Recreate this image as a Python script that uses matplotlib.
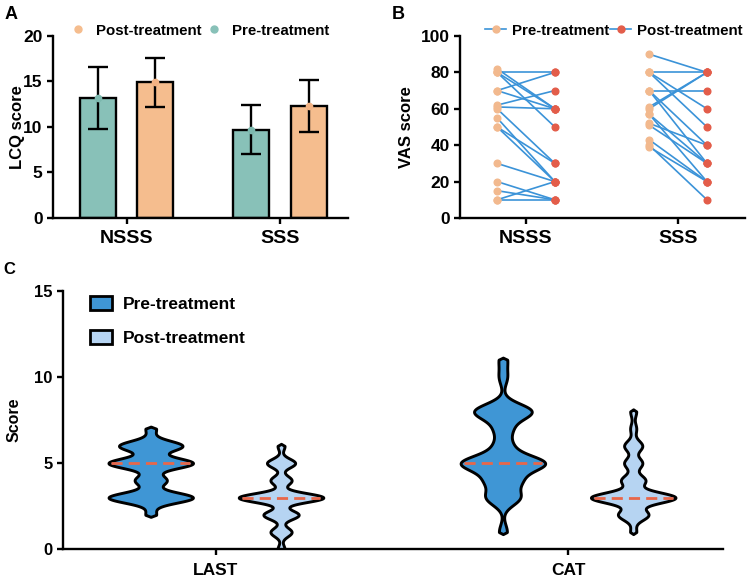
import numpy as np
import matplotlib
matplotlib.use("Agg")
import matplotlib.pyplot as plt
from matplotlib.lines import Line2D
from matplotlib.patches import Patch

plt.rcParams['font.family'] = ['Liberation Sans', 'DejaVu Sans']
plt.rcParams['font.weight'] = 'bold'
plt.rcParams['axes.labelweight'] = 'bold'

# ---------------- data ----------------
# Panel A: LCQ score (mean, SD)
lcq_groups = ["NSSS", "SSS"]
lcq_pre_mean = [13.2, 9.7]
lcq_pre_sd = [3.4, 2.7]
lcq_post_mean = [14.9, 12.3]
lcq_post_sd = [2.7, 2.9]

# Panel B: VAS score, paired pre/post
vas_groups = ["NSSS", "SSS"]
vas_nsss_pre = [82, 80, 80, 80, 70, 70, 62, 61, 60, 55, 50, 50, 30, 20, 15, 10, 10]
vas_nsss_post = [60, 80, 60, 50, 80, 60, 70, 60, 30, 20, 30, 20, 20, 10, 10, 20, 10]
vas_sss_pre = [90, 80, 80, 80, 70, 70, 70, 61, 60, 57, 57, 52, 51, 43, 40, 39]
vas_sss_post = [80, 80, 60, 50, 70, 40, 30, 80, 80, 30, 20, 40, 30, 20, 10, 20]

# Panel C: score distributions (counts per score level)
score_groups = ["LAST", "CAT"]
score_levels = [0, 1, 2, 3, 4, 5, 6, 7, 8, 9, 10, 11, 12]
last_pre_counts = [0, 0, 1, 8, 3, 8, 6, 1, 0, 0, 0, 0, 0]
last_post_counts = [1, 3, 5, 12, 3, 4, 1, 0, 0, 0, 0, 0, 0]
cat_pre_counts = [0, 1, 0, 4, 4, 10, 2, 2, 7, 0, 1, 1, 0]
cat_post_counts = [0, 1, 5, 14, 4, 3, 3, 1, 1, 0, 0, 0, 0]

# ---------------- style ----------------
TEAL = "#88C1B8"
ORANGE = "#F5BD8E"
B_PRE = "#F2B98E"
B_POST = "#E35D4A"
B_LINE = "#3B93D8"
C_PRE = "#3F96D5"
C_POST = "#B6D4F2"
MED = "#E8674A"
LW = 1.7

fig = plt.figure(figsize=(7.5, 5.81), dpi=100)

def style_axes(ax, lsize=12.5):
    for s in ['top', 'right']:
        ax.spines[s].set_visible(False)
    for s in ['left', 'bottom']:
        ax.spines[s].set_linewidth(LW)
    ax.tick_params(width=LW, length=4, labelsize=lsize)

# ---------------- Panel A ----------------
axA = fig.add_axes([0.0707, 0.6248, 0.3933, 0.3133])
style_axes(axA)
xg = np.arange(len(lcq_groups))
off = 0.187
bw = 0.235
axA.bar(xg - off, lcq_pre_mean, width=bw, color=TEAL, edgecolor='black', linewidth=LW, zorder=2)
axA.bar(xg + off, lcq_post_mean, width=bw, color=ORANGE, edgecolor='black', linewidth=LW, zorder=2)
axA.errorbar(xg - off, lcq_pre_mean, yerr=lcq_pre_sd, fmt='none', ecolor='black',
             elinewidth=LW, capsize=7, capthick=LW, zorder=3)
axA.errorbar(xg + off, lcq_post_mean, yerr=lcq_post_sd, fmt='none', ecolor='black',
             elinewidth=LW, capsize=7, capthick=LW, zorder=3)
axA.plot(xg - off, lcq_pre_mean, 'o', color="#7CB8AE", ms=4.5, zorder=4)
axA.plot(xg + off, lcq_post_mean, 'o', color="#F2B283", ms=4.5, zorder=4)
axA.set_xlim(-0.48, 1.444)
axA.set_ylim(0, 20)
axA.set_yticks([0, 5, 10, 15, 20])
axA.set_xticks(xg)
axA.set_xticklabels(lcq_groups, fontsize=14)
axA.tick_params(axis='x', pad=5)
axA.set_ylabel("LCQ score", fontsize=12)
axA.yaxis.set_label_coords(-0.095, 0.5)
hA = [Line2D([], [], marker='o', ls='', color=ORANGE, ms=5),
      Line2D([], [], marker='o', ls='', color=TEAL, ms=5)]
axA.legend(hA, ["Post-treatment", "Pre-treatment"], ncol=2, frameon=False,
           loc='center', bbox_to_anchor=(0.497, 1.03), fontsize=10.8,
           handlelength=1.0, handletextpad=0.7, columnspacing=0.3,
           borderaxespad=0, borderpad=0)

# ---------------- Panel B ----------------
axB = fig.add_axes([0.6133, 0.6248, 0.38, 0.3133])
style_axes(axB)
d = 0.19
pairs = [(vas_nsss_pre, vas_nsss_post), (vas_sss_pre, vas_sss_post)]
for gi, (pre, post) in enumerate(pairs):
    for a, b in zip(pre, post):
        axB.plot([gi - d, gi + d], [a, b], color=B_LINE, lw=1.2, zorder=2)
    axB.plot([gi - d] * len(pre), pre, 'o', color=B_PRE, ms=4.8, zorder=3, ls='')
    axB.plot([gi + d] * len(post), post, 'o', color=B_POST, ms=4.8, zorder=3, ls='')
axB.set_xlim(-0.434, 1.44)
axB.set_ylim(0, 100)
axB.set_yticks([0, 20, 40, 60, 80, 100])
axB.set_xticks([0, 1])
axB.set_xticklabels(vas_groups, fontsize=14)
axB.tick_params(axis='x', pad=5)
axB.set_ylabel("VAS score", fontsize=12)
axB.yaxis.set_label_coords(-0.161, 0.5)
hB = [Line2D([], [], color=B_LINE, lw=1.2, marker='o', mfc=B_PRE, mec=B_PRE, ms=5),
      Line2D([], [], color=B_LINE, lw=1.2, marker='o', mfc=B_POST, mec=B_POST, ms=5)]
axB.legend(hB, ["Pre-treatment", "Post-treatment"], ncol=2, frameon=False,
           loc='center', bbox_to_anchor=(0.54, 1.03), fontsize=10.8,
           handlelength=1.4, handletextpad=0.4, columnspacing=0.05,
           borderaxespad=0, borderpad=0)

# ---------------- Panel C ----------------
axC = fig.add_axes([0.0836, 0.05456, 0.8804, 0.4451])
style_axes(axC, 12)
axC.set_xlim(-0.435, 1.44)
axC.set_ylim(0, 15)
axC.set_yticks([0, 5, 10, 15])
axC.set_xticks([0, 1])
axC.set_xticklabels(score_groups, fontsize=12.5)
axC.tick_params(axis='x', pad=6)
axC.set_ylabel("Score", fontsize=11.5)
axC.yaxis.set_label_coords(-0.063, 0.5)

levels = np.array(score_levels, dtype=float)
violins = [
    (0 - 0.185, last_pre_counts, C_PRE, 0.30),
    (0 + 0.185, last_post_counts, C_POST, 0.26),
    (1 - 0.185, cat_pre_counts, C_PRE, 0.45),
    (1 + 0.185, cat_post_counts, C_POST, 0.31),
]
half_max = 0.12
pad = 0.12
for c, counts, col, h in violins:
    data = np.repeat(levels, counts)
    lo, hi = data.min(), data.max()
    grid = np.linspace(lo - pad, hi + pad, 800)
    dens = np.exp(-0.5 * ((grid[:, None] - data[None, :]) / h) ** 2).sum(1)
    scale = half_max / dens.max()
    taper = np.clip((grid - (lo - pad)) / pad, 0, 1) * np.clip(((hi + pad) - grid) / pad, 0, 1)
    half = dens * scale * taper
    axC.fill_betweenx(grid, c - half, c + half, facecolor=col, edgecolor='black',
                      linewidth=2.1, zorder=2)
    med = np.median(data)
    hm = np.exp(-0.5 * ((med - data) / h) ** 2).sum() * scale * 0.93
    axC.plot([c - hm, c + hm], [med, med], color=MED, lw=2.0, dashes=(4, 2.2), zorder=3)

hC = [Patch(facecolor=C_PRE, edgecolor='black', linewidth=2.0),
      Patch(facecolor=C_POST, edgecolor='black', linewidth=2.0)]
axC.legend(hC, ["Pre-treatment", "Post-treatment"], frameon=False, loc='upper left',
           bbox_to_anchor=(0.017, 1.04), fontsize=12.5, handlelength=1.3,
           handleheight=0.9, labelspacing=1.0, handletextpad=0.6)

# panel letters
fig.text(0.006, 0.99, "A", fontsize=13, va='top', ha='left')
fig.text(0.522, 0.99, "B", fontsize=13, va='top', ha='left')
fig.text(0.004, 0.549, "C", fontsize=12, va='top', ha='left')

fig.savefig("out.png", dpi=100)
